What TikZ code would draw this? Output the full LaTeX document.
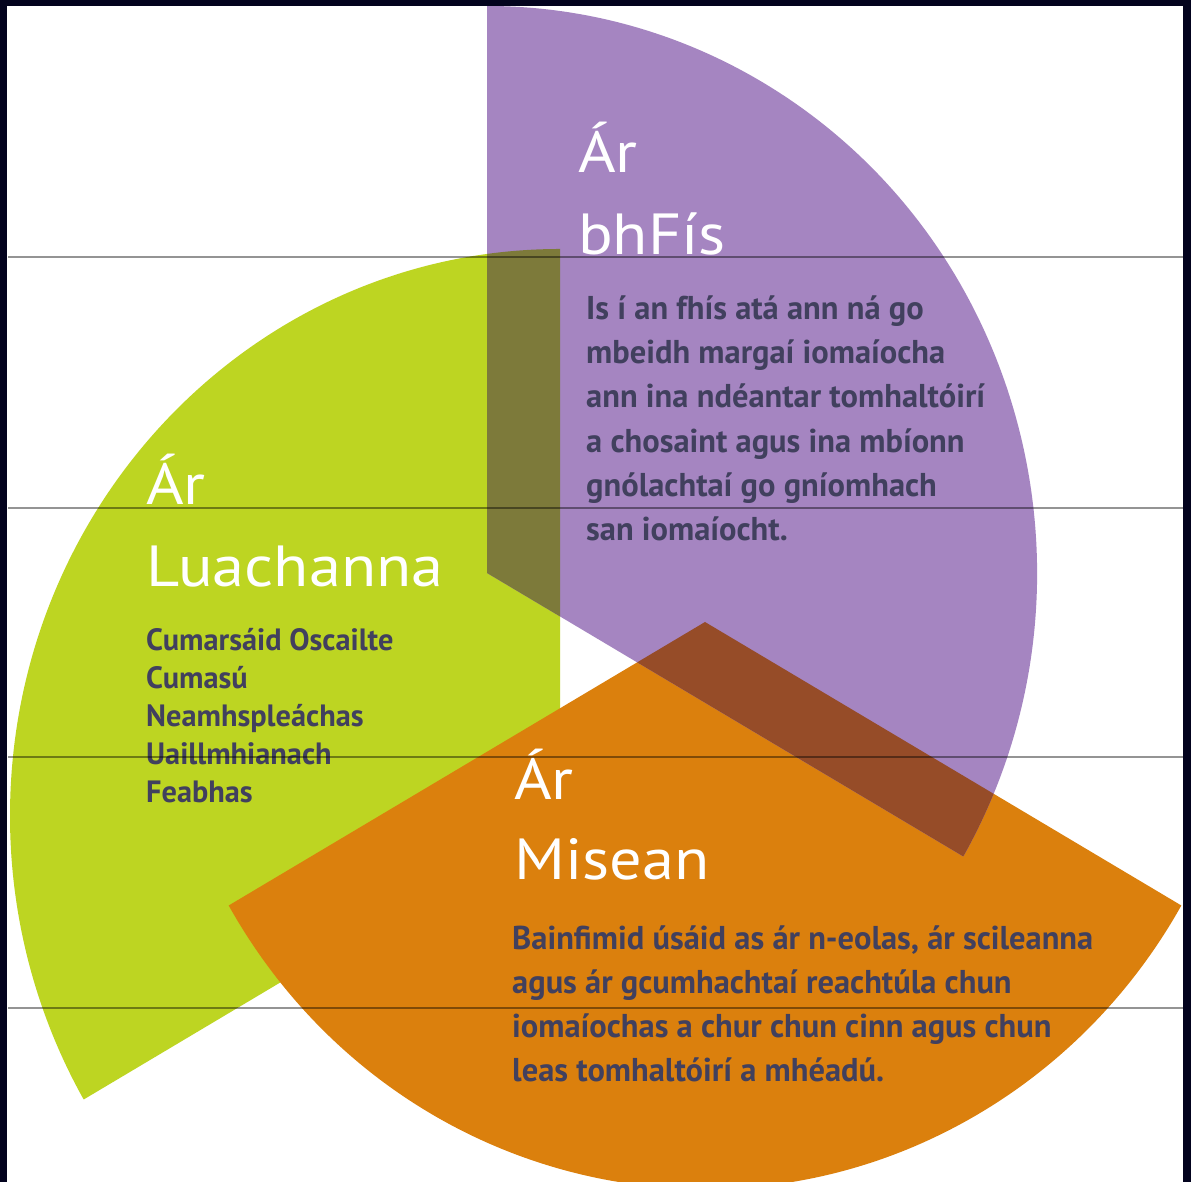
\documentclass[tikz,border=0pt]{standalone}
\usepackage{fontspec}
\setmainfont{PT Sans}
\newfontfamily\headfont[FakeStretch=1.11]{PT Sans}
\newfontfamily\bodyfont[FakeStretch=0.985]{PT Sans}
\definecolor{purplec}{HTML}{A585C1}
\definecolor{greenc}{HTML}{BDD522}
\definecolor{orangec}{HTML}{DB800D}
\definecolor{olivec}{HTML}{7D7A3A}
\definecolor{brownc}{HTML}{964C28}
\definecolor{textc}{HTML}{41405E}
\definecolor{navyc}{HTML}{03031E}
\begin{document}
\begin{tikzpicture}[x=1pt,y=1pt,
  heading/.style={font=\headfont\fontsize{58}{58}\selectfont, text=white, anchor=base west, inner sep=0pt},
  bodytext/.style={font=\bodyfont\bfseries\fontsize{33}{33}\selectfont, text=textc, anchor=base west, inner sep=0pt},
  listtext/.style={font=\bodyfont\bfseries\fontsize{30.8}{30.8}\selectfont, text=textc, anchor=base west, inner sep=0pt},
  guideline/.style={draw=black, draw opacity=0.42, line width=1.5pt}]
\useasboundingbox (0,0) rectangle (1191,1182);
\fill[white] (0,0) rectangle (1191,1182);
\coordinate (P) at (487,609);
\coordinate (G) at (560,366);
\coordinate (O) at (705,560);
% sectors
\fill[greenc] (G) -- ++(90:550 and 567) arc[start angle=90, end angle=210, x radius=550, y radius=567] -- cycle;
\fill[orangec] (O) -- ++(210:550 and 567) arc[start angle=210, end angle=330, x radius=550, y radius=567] -- cycle;
\fill[purplec] (P) -- ++(-30:550 and 567) arc[start angle=-30, end angle=90, x radius=550, y radius=567] -- cycle;
\begin{scope}
  \clip (P) -- ++(-30:550 and 567) arc[start angle=-30, end angle=90, x radius=550, y radius=567] -- cycle;
  \fill[olivec] (G) -- ++(90:550 and 567) arc[start angle=90, end angle=210, x radius=550, y radius=567] -- cycle;
  \fill[brownc] (O) -- ++(210:550 and 567) arc[start angle=210, end angle=330, x radius=550, y radius=567] -- cycle;
\end{scope}
% headings
\node[heading] (v1) at (578,1009) {Ár};
\node[heading] (v2) at (578,927) {bhFís};
\node[heading] (l1) at (146,677) {Ár};
\node[heading] (l2) at (146,595) {Luachanna};
\node[heading] (m1) at (514,382) {Ár};
\node[heading] (m2) at (514,302) {Misean};
% purple body
\node[bodytext] (vb1) at (586,862) {Is í an fhís atá ann ná go};
\node[bodytext] (vb2) at (586,818) {mbeidh margaí iomaíocha};
\node[bodytext] (vb3) at (586,774) {ann ina ndéantar tomhaltóirí};
\node[bodytext] (vb4) at (586,729) {a chosaint agus ina mbíonn};
\node[bodytext] (vb5) at (586,685) {gnólachtaí go gníomhach};
\node[bodytext] (vb6) at (586,641) {san iomaíocht.};
% green list
\node[listtext] (lb1) at (146,531) {Cumarsáid Oscailte};
\node[listtext] (lb2) at (146,493) {Cumasú};
\node[listtext] (lb3) at (146,455) {Neamhspleáchas};
\node[listtext] (lb4) at (146,417) {Uaillmhianach};
\node[listtext] (lb5) at (146,379) {Feabhas};
% orange body
\node[bodytext] (mb1) at (512,232) {Bainfimid úsáid as ár n-eolas, ár scileanna};
\node[bodytext] (mb2) at (512,188) {agus ár gcumhachtaí reachtúla chun};
\node[bodytext] (mb3) at (512,144) {iomaíochas a chur chun cinn agus chun};
\node[bodytext] (mb4) at (512,100) {leas tomhaltóirí a mhéadú.};
% horizontal guide lines
\foreach \yy in {925,674,425,174} {
  \draw[guideline] (8,\yy) -- (1183,\yy);
}
% frame
\fill[navyc] (0,0) rectangle (7,1182);
\fill[navyc] (0,1176) rectangle (1191,1182);
\fill[navyc] (1183,0) rectangle (1191,1182);
\end{tikzpicture}
\end{document}
